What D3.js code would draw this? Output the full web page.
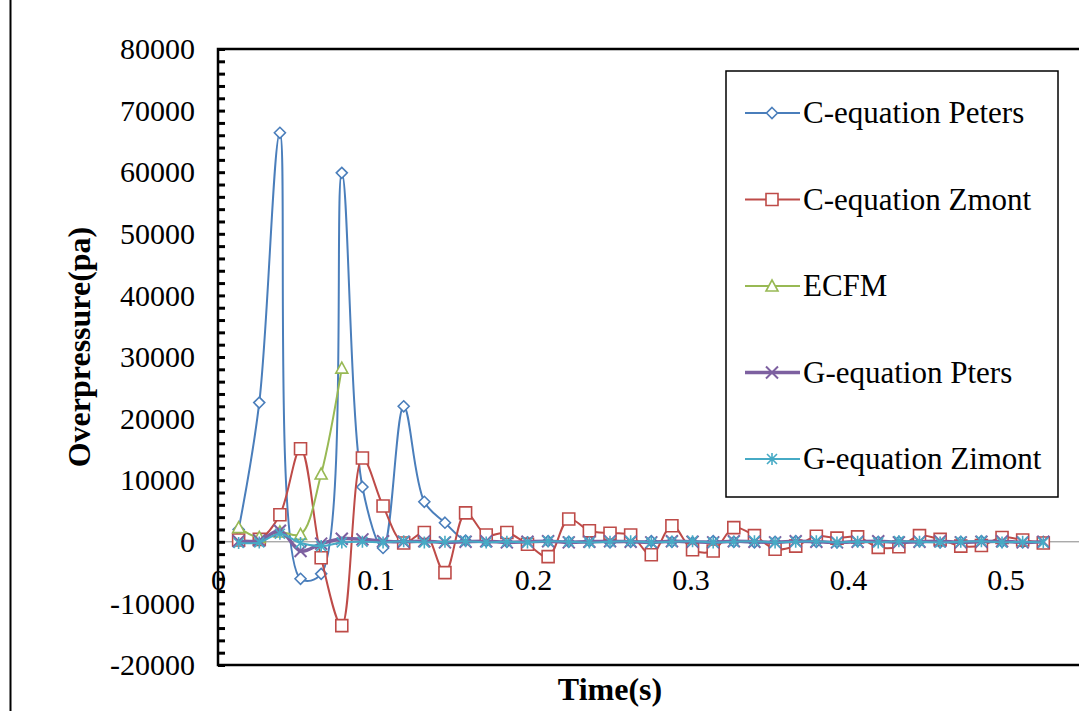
<!DOCTYPE html>
<html>
<head>
<meta charset="utf-8">
<script src="https://cdn.jsdelivr.net/npm/d3@7"></script>
<style>
    body { margin: 0; background: #fff; }
    text { font-family: "Liberation Serif", "Times New Roman", serif; fill: #000; }
</style>
</head>
<body>
<div id="chart"></div>
<script>
const svgWidth = 1079;
const svgHeight = 711;
const plotLeft = 218;
const plotTop = 49;
const plotBottom = 665;
const plotRight = 1163;

// time samples (s)
const times = [0.0131, 0.0262, 0.0393, 0.0524, 0.0655, 0.0786, 0.0917, 0.1048, 0.1179, 0.131,
    0.1441, 0.1572, 0.1703, 0.1834, 0.1965, 0.2096, 0.2227, 0.2358, 0.2489, 0.262,
    0.2751, 0.2882, 0.3013, 0.3144, 0.3275, 0.3406, 0.3537, 0.3668, 0.3799, 0.393,
    0.4061, 0.4192, 0.4323, 0.4454, 0.4585, 0.4716, 0.4847, 0.4978, 0.5109, 0.524];

const cPeters = [2000, 22600, 66400, -6000, -5200, 59900, 8900, -1000, 22000, 6500,
    3100, 200, 100, 0, -100, 100, 0, 100, -100, 0,
    100, 0, -100, 100, 0, -100, 0, 100, 0, -100,
    100, 0, 0, 100, -100, 0, 100, 0, -100, 0];

const cZmont = [300, 400, 4400, 15100, -2600, -13600, 13600, 5800, -200, 1500,
    -5000, 4700, 1100, 1500, -400, -2400, 3700, 1800, 1400, 1100,
    -2100, 2600, -1300, -1500, 2300, 1000, -1200, -700, 900, 600,
    800, -900, -800, 1000, 400, -700, -600, 700, 300, -200];

const ecfm = [2300, 700, 1600, 1200, 11000, 28200];

const gPters = [100, 200, 1800, -1500, -300, 500, 400, 100, 0, 100,
    -100, 0, 100, -100, 0, 100, -100, 0, 100, 0,
    -100, 100, 0, -100, 100, 0, -100, 100, 0, -100,
    0, 100, -100, 0, 100, -100, 0, 100, -100, 0];

const gZimont = [-200, -100, 1300, -200, -700, -100, 0, -100, 100, -100,
    0, 100, -100, 0, -100, 100, 0, -100, 0, 100,
    -100, 0, 100, -100, 0, 100, -100, 0, 100, -100,
    0, -100, 100, 0, -100, 0, 100, -100, 0, -100];

const xTicks = [0, 0.1, 0.2, 0.3, 0.4, 0.5];
const yTicks = [-20000, -10000, 0, 10000, 20000, 30000, 40000, 50000, 60000, 70000, 80000];

const seriesNames = ["C-equation Peters", "C-equation Zmont", "ECFM", "G-equation Pters", "G-equation Zimont"];

// marker shapes, centred on 0,0
const markers = {
    diamond: "M0,-5.5L5.5,0L0,5.5L-5.5,0Z",
    square: "M-6,-6H6V6H-6Z",
    triangle: "M0,-6L6,5H-6Z",
    cross: "M-6,-6L6,6M-6,6L6,-6",
    star: "M-5,-5L5,5M-5,5L5,-5M0,-6V6"
};

const series = [
    { name: seriesNames[0], values: cPeters, color: "#4A7EBB", width: 2, marker: "diamond", fill: "#fff" },
    { name: seriesNames[1], values: cZmont, color: "#BE4B48", width: 2, marker: "square", fill: "#fff" },
    { name: seriesNames[2], values: ecfm, color: "#98B954", width: 2, marker: "triangle", fill: "#fff" },
    { name: seriesNames[3], values: gPters, color: "#7D60A0", width: 3.5, marker: "cross", fill: "none" },
    { name: seriesNames[4], values: gZimont, color: "#46AAC5", width: 2, marker: "star", fill: "none" }
];

const xScale = d3.scaleLinear().domain([0, 0.6]).range([plotLeft, plotRight]);
const yScale = d3.scaleLinear().domain([-20000, 80000]).range([plotBottom, plotTop]);

const svg = d3.select("#chart")
    .append("svg")
    .attr("width", svgWidth)
    .attr("height", svgHeight);

// page edge line on the far left
svg.append("line")
    .attr("x1", 10.5).attr("x2", 10.5)
    .attr("y1", 0).attr("y2", svgHeight)
    .attr("stroke", "#000")
    .attr("stroke-width", 2);

// horizontal axis at zero
svg.append("line")
    .attr("x1", plotLeft).attr("x2", plotRight)
    .attr("y1", yScale(0)).attr("y2", yScale(0))
    .attr("stroke", "#868686")
    .attr("stroke-width", 1);

// minor + major inside ticks on the y axis
svg.append("g")
    .attr("transform", `translate(${plotLeft}, 0)`)
    .call(d3.axisLeft(yScale).tickValues(d3.range(-20000, 80001, 2000)).tickSize(-7).tickFormat(""))
    .call(g => g.select(".domain").remove())
    .call(g => g.selectAll("line").attr("stroke", "#000").attr("stroke-width", 3));

svg.append("g")
    .attr("transform", `translate(${plotLeft}, 0)`)
    .call(d3.axisLeft(yScale).tickValues(yTicks).tickSize(0).tickPadding(23).tickFormat(d => String(d)))
    .call(g => g.select(".domain").remove())
    .call(g => g.selectAll("text")
        .style("font-family", "Liberation Serif")
        .style("font-size", "30px")
        .attr("fill", "#000"));

svg.append("g")
    .attr("transform", `translate(0, ${yScale(0)})`)
    .call(d3.axisBottom(xScale).tickValues(xTicks).tickSize(0).tickPadding(27).tickFormat(d => String(d)))
    .call(g => g.select(".domain").remove())
    .call(g => g.selectAll("text")
        .style("font-family", "Liberation Serif")
        .style("font-size", "30px")
        .attr("fill", "#000"));

// series lines and markers
const line = d3.line()
    .x((d, i) => xScale(times[i]))
    .y(d => yScale(d))
    .curve(d3.curveCatmullRom.alpha(0.5));

series.forEach(s => {
    const g = svg.append("g");
    g.append("path")
        .attr("d", line(s.values))
        .attr("fill", "none")
        .attr("stroke", s.color)
        .attr("stroke-width", s.width);
    g.selectAll("path.mk")
        .data(s.values)
        .enter()
        .append("path")
        .attr("class", "mk")
        .attr("transform", (d, i) => `translate(${xScale(times[i])}, ${yScale(d)})`)
        .attr("d", markers[s.marker])
        .attr("fill", s.fill)
        .attr("stroke", s.color)
        .attr("stroke-width", s.marker === "cross" ? 2 : 1.6);
});

// plot area border
svg.append("rect")
    .attr("x", plotLeft)
    .attr("y", plotTop)
    .attr("width", plotRight - plotLeft)
    .attr("height", plotBottom - plotTop)
    .attr("fill", "none")
    .attr("stroke", "#000")
    .attr("stroke-width", 2.5);

// legend
const legend = svg.append("g");
legend.append("rect")
    .attr("x", 726).attr("y", 71)
    .attr("width", 332).attr("height", 426)
    .attr("fill", "#fff")
    .attr("stroke", "#000")
    .attr("stroke-width", 1.5);

series.forEach((s, i) => {
    const ly = 113 + i * 86.5;
    const item = legend.append("g");
    item.append("line")
        .attr("x1", 745).attr("x2", 800)
        .attr("y1", ly).attr("y2", ly)
        .attr("stroke", s.color)
        .attr("stroke-width", s.width);
    item.append("path")
        .attr("transform", `translate(772, ${ly})`)
        .attr("d", markers[s.marker])
        .attr("fill", s.fill)
        .attr("stroke", s.color)
        .attr("stroke-width", s.marker === "cross" ? 2 : 1.6);
    item.append("text")
        .attr("x", 803)
        .attr("y", ly + 10)
        .style("font-size", "31px")
        .text(s.name);
});

// axis titles
svg.append("text")
    .attr("x", 610)
    .attr("y", 700)
    .attr("text-anchor", "middle")
    .style("font-size", "32px")
    .style("font-weight", "bold")
    .text("Time(s)");

svg.append("text")
    .attr("transform", "translate(90, 347) rotate(-90)")
    .attr("text-anchor", "middle")
    .style("font-size", "32px")
    .style("font-weight", "bold")
    .text("Overpressure(pa)");
</script>
</body>
</html>
